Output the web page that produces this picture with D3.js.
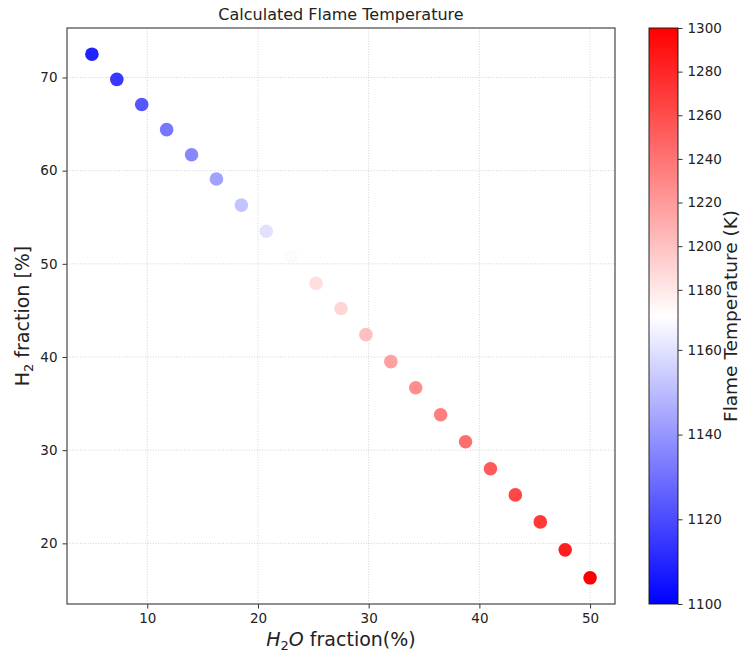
<!DOCTYPE html>
<html>
<head>
<meta charset="utf-8">
<script src="https://cdn.jsdelivr.net/npm/d3@7"></script>
<style>
  body { margin: 0; background: #fff; }
  text { font-family: "DejaVu Sans", sans-serif; fill: #222; }
</style>
</head>
<body>
<div id="chart"></div>
<script>
// values
const h2oFraction = [5, 7.25, 9.5, 11.75, 14, 16.25, 18.5, 20.75, 23, 25.25, 27.5,
  29.75, 32, 34.25, 36.5, 38.75, 41, 43.25, 45.5, 47.75, 50];
const h2Fraction = [72.5, 69.8, 67.1, 64.4, 61.7, 59.1, 56.3, 53.5, 50.8, 47.9, 45.2,
  42.4, 39.5, 36.7, 33.8, 30.9, 28.0, 25.2, 22.3, 19.3, 16.3];
const flameTemp = [1109, 1115, 1123, 1132, 1136, 1143, 1152, 1160, 1170, 1185, 1190,
  1201, 1217, 1227, 1235, 1243, 1254, 1264, 1271, 1284, 1300];
const xTicks = [10, 20, 30, 40, 50];
const yTicks = [20, 30, 40, 50, 60, 70];
const cbarTicks = [1100, 1120, 1140, 1160, 1180, 1200, 1220, 1240, 1260, 1280, 1300];
const tempRange = [1100, 1168, 1300]; // min, centre (two-slope norm), max

const W = 741, H = 653;
const plot = {left: 67, top: 28, right: 615, bottom: 604};
const cbar = {left: 649, right: 678};

const svg = d3.select("#chart").append("svg")
  .attr("width", W).attr("height", H);

// scales with matplotlib-like 5% padding
const xPad = (d3.max(h2oFraction) - d3.min(h2oFraction)) * 0.05;
const yPad = (d3.max(h2Fraction) - d3.min(h2Fraction)) * 0.05;
const x = d3.scaleLinear()
  .domain([d3.min(h2oFraction) - xPad, d3.max(h2oFraction) + xPad])
  .range([plot.left, plot.right]);
const y = d3.scaleLinear()
  .domain([d3.min(h2Fraction) - yPad, d3.max(h2Fraction) + yPad])
  .range([plot.bottom, plot.top]);

// bwr colormap with the centre at tempRange[1]
const color = d3.scaleLinear()
  .domain(tempRange)
  .range(["#0000ff", "#ffffff", "#ff0000"])
  .clamp(true);

// grid
const grid = svg.append("g");
grid.selectAll(".gx").data(xTicks).enter().append("line")
  .attr("x1", d => x(d)).attr("x2", d => x(d))
  .attr("y1", plot.top).attr("y2", plot.bottom);
grid.selectAll(".gy").data(yTicks).enter().append("line")
  .attr("x1", plot.left).attr("x2", plot.right)
  .attr("y1", d => y(d)).attr("y2", d => y(d));
grid.selectAll("line")
  .attr("stroke", "#c8c8c8").attr("stroke-width", 0.8)
  .attr("stroke-dasharray", "1,1.6");

// points
svg.append("g").selectAll("circle")
  .data(h2oFraction.map((d, i) => ({x: d, y: h2Fraction[i], t: flameTemp[i]})))
  .enter().append("circle")
  .attr("cx", d => x(d.x))
  .attr("cy", d => y(d.y))
  .attr("r", 6.8)
  .attr("fill", d => color(d.t));

// axes
const xAxis = svg.append("g")
  .attr("transform", "translate(0," + plot.bottom + ")")
  .call(d3.axisBottom(x).tickValues(xTicks).tickSize(4.5).tickPadding(5));
const yAxis = svg.append("g")
  .attr("transform", "translate(" + plot.left + ",0)")
  .call(d3.axisLeft(y).tickValues(yTicks).tickSize(4.5).tickPadding(5));
[xAxis, yAxis].forEach(a => {
  a.select(".domain").remove();
  a.selectAll("line").attr("stroke", "#333");
  a.selectAll("text").attr("font-size", 13.5).attr("font-family", "DejaVu Sans").attr("fill", "#222");
});

// frame
svg.append("rect")
  .attr("x", plot.left).attr("y", plot.top)
  .attr("width", plot.right - plot.left).attr("height", plot.bottom - plot.top)
  .attr("fill", "none").attr("stroke", "#555").attr("stroke-width", 1.3);

// title
svg.append("text")
  .attr("x", (plot.left + plot.right) / 2).attr("y", 20)
  .attr("text-anchor", "middle").attr("font-size", 16)
  .text("Calculated Flame Temperature");

// x label: $H_2O$ fraction(%)
const xl = svg.append("text")
  .attr("x", (plot.left + plot.right) / 2).attr("y", 646)
  .attr("text-anchor", "middle").attr("font-size", 19);
xl.append("tspan").attr("font-style", "italic").text("H");
xl.append("tspan").attr("font-size", 13).attr("dy", 4).text("2");
xl.append("tspan").attr("font-style", "italic").attr("dy", -4).text("O");
xl.append("tspan").text(" fraction(%)");

// y label: H$_2$ fraction [%]
const yl = svg.append("text")
  .attr("transform", "translate(29," + ((plot.top + plot.bottom) / 2) + ") rotate(-90)")
  .attr("text-anchor", "middle").attr("font-size", 19);
yl.append("tspan").text("H");
yl.append("tspan").attr("font-size", 13).attr("dy", 4).text("2");
yl.append("tspan").attr("dy", -4).text(" fraction [%]");

// colorbar
const c = d3.scaleLinear()
  .domain(tempRange)
  .range([plot.bottom, (plot.top + plot.bottom) / 2, plot.top]);
const grad = svg.append("defs").append("linearGradient")
  .attr("id", "bwr").attr("x1", 0).attr("y1", 1).attr("x2", 0).attr("y2", 0);
grad.selectAll("stop").data(tempRange).enter().append("stop")
  .attr("offset", d => (plot.bottom - c(d)) / (plot.bottom - plot.top))
  .attr("stop-color", d => color(d));
svg.append("rect")
  .attr("x", cbar.left).attr("y", plot.top)
  .attr("width", cbar.right - cbar.left).attr("height", plot.bottom - plot.top)
  .attr("fill", "url(#bwr)").attr("stroke", "#111").attr("stroke-width", 0.9);
const cAxis = svg.append("g")
  .attr("transform", "translate(" + cbar.right + ",0)")
  .call(d3.axisRight(c).tickValues(cbarTicks).tickFormat(d3.format("d")).tickSize(4.5).tickPadding(5));
cAxis.select(".domain").remove();
cAxis.selectAll("line").attr("stroke", "#333");
cAxis.selectAll("text").attr("font-size", 13.5).attr("font-family", "DejaVu Sans").attr("fill", "#222");

svg.append("text")
  .attr("transform", "translate(737," + ((plot.top + plot.bottom) / 2) + ") rotate(-90)")
  .attr("text-anchor", "middle").attr("font-size", 18.5)
  .text("Flame Temperature (K)");
</script>
</body>
</html>
